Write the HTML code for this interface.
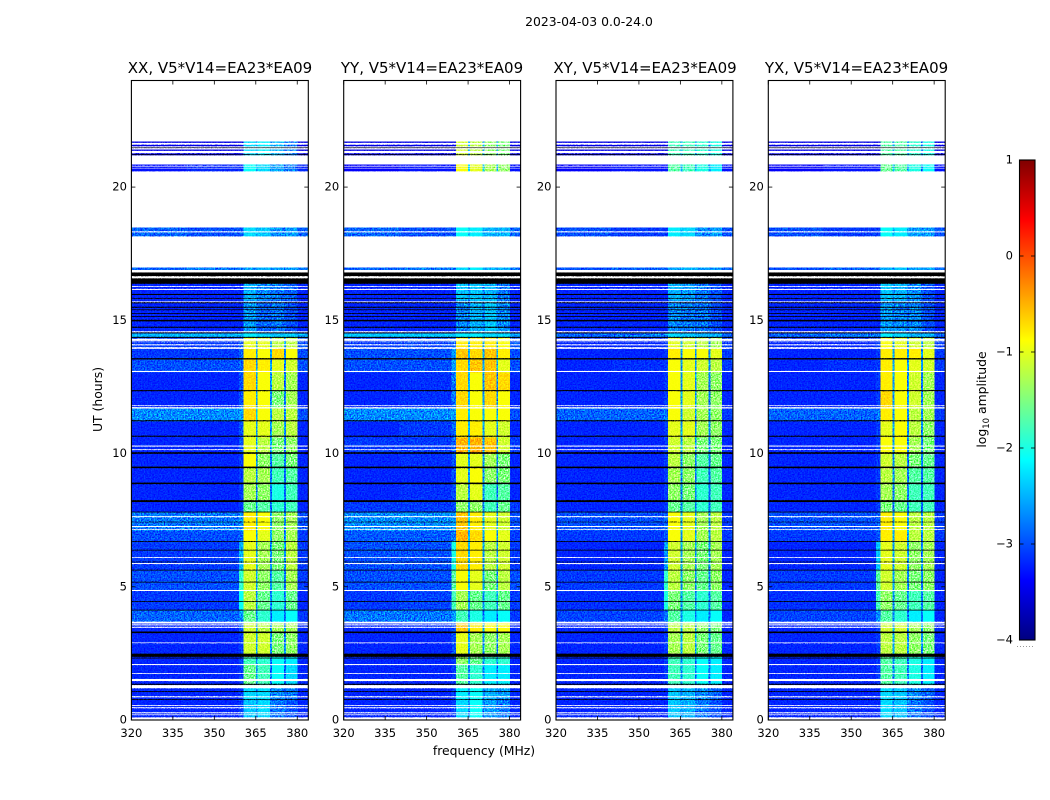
<!DOCTYPE html>
<html lang="en">
<head>
<meta charset="utf-8">
<title>2023-04-03 0.0-24.0</title>
<style>
html,body{margin:0;padding:0;background:#fff;width:1050px;height:800px;overflow:hidden}
svg{display:block;font-family:"DejaVu Sans","Liberation Sans",sans-serif;fill:#000}
.lbl{font-size:11.5px}
.ttl{font-size:15px}
.axt{font-size:12.4px}
</style>
</head>
<body>
<svg id="chart" xmlns="http://www.w3.org/2000/svg" width="1050" height="800" viewBox="0 0 1050 800">
  <defs>
    <filter id="speckle" x="0" y="0" width="1" height="1" color-interpolation-filters="sRGB">
      <feTurbulence type="fractalNoise" baseFrequency="0.7" numOctaves="2" seed="4"/>
      <feColorMatrix type="matrix" values="2.0 0 0 0 -0.5  2.0 0 0 0 -0.5  2.0 0 0 0 -0.5  0 0 0 0 1"/>
    </filter>
    <linearGradient id="jet-gradient" x1="0" y1="1" x2="0" y2="0"></linearGradient>
  </defs>
  <rect x="0" y="0" width="1050" height="800" fill="#fff"/>
  <text x="589" y="26" text-anchor="middle" style="font-size:12.4px">2023-04-03 0.0-24.0</text>
  <text x="220" y="73" text-anchor="middle" class="ttl">XX, V5*V14=EA23*EA09</text>
  <text x="432" y="73" text-anchor="middle" class="ttl">YY, V5*V14=EA23*EA09</text>
  <text x="645" y="73" text-anchor="middle" class="ttl">XY, V5*V14=EA23*EA09</text>
  <text x="856.5" y="73" text-anchor="middle" class="ttl">YX, V5*V14=EA23*EA09</text>
  <text x="484" y="755" text-anchor="middle" class="axt">frequency (MHz)</text>
  <text transform="translate(102,399.5) rotate(-90)" text-anchor="middle" class="axt">UT (hours)</text>
  <text transform="translate(986,399.5) rotate(-90)" text-anchor="middle" class="axt">log<tspan font-size="8.5" dy="3">10</tspan><tspan dy="-3"> amplitude</tspan></text>
  <g id="panels"></g>
  <g id="colorbar"></g>
</svg>
<script>
// ---- Axis categories and tick labels ----
const panelNames = ['xx', 'yy', 'xy', 'yx'];
const freqTicks = [320, 335, 350, 365, 380];
const hourTicks = [0, 5, 10, 15, 20];
const colorTicks = [-4, -3, -2, -1, 0, 1];
const colorTickLabels = ['\u22124', '\u22123', '\u22122', '\u22121', '0', '1'];

// Frequency band edges (MHz): the columns of each heatmap
const bandStartMHz = [320, 340, 359, 360.6, 365.0, 365.7, 370.2, 370.9, 375.2, 375.9, 380.1];
const bandEndMHz   = [340, 359, 360.6, 365.0, 365.7, 370.2, 370.9, 375.2, 375.9, 380.1, 384];

// UT spans (hours): the rows of each heatmap
const rowStartHours = [21.19,20.59,18.15,16.88,15.75,14.51,14.36,13.95,13.54,13.05,12.34,11.70,11.21,10.61,9.98,9.45,8.85,8.18,7.80,7.10,6.71,5.63,4.88,4.13,3.68,3.26,2.36,2.06,1.31,0.75,0];
const rowEndHours   = [21.71,20.85,18.49,16.99,16.39,15.75,14.51,14.36,13.95,13.54,13.05,12.34,11.70,11.21,10.61,9.98,9.45,8.85,8.18,7.80,7.10,6.71,5.63,4.88,4.13,3.68,3.26,2.36,2.06,1.31,0.75];

// log10 amplitude by row and band
const xxLevels = [
[-3.5,-3.5,-3.5,-2.3,-2.6,-2.2,-2.6,-2.5,-2.8,-2.8,-3.5],
[-3.3,-3.2,-3.2,-2.1,-2.5,-2.3,-2.7,-2.6,-2.9,-2.8,-3.2],
[-2.9,-3.0,-3.0,-2.3,-2.5,-2.4,-2.6,-2.7,-2.8,-2.6,-2.9],
[-2.9,-2.8,-2.8,-2.6,-2.7,-2.5,-2.7,-2.6,-2.7,-2.6,-2.8],
[-3.2,-3.2,-3.2,-2.5,-2.7,-2.7,-2.8,-2.8,-2.9,-2.9,-3.2],
[-3.2,-3.2,-3.2,-2.6,-2.8,-2.9,-2.9,-2.8,-2.9,-3.0,-3.2],
[-2.5,-2.5,-2.5,-2.2,-2.3,-2.3,-2.4,-2.4,-2.4,-2.4,-2.6],
[-3.1,-3.1,-3.0,-1.0,-2.6,-1.0,-2.6,-1.2,-2.6,-1.2,-3.0],
[-3.1,-3.1,-2.9,-0.8,-2.6,-0.9,-2.6,-0.7,-2.7,-0.9,-3.0],
[-3.0,-3.0,-2.9,-0.7,-2.6,-0.8,-2.6,-1.0,-2.7,-1.1,-3.0],
[-3.2,-3.2,-3.0,-0.7,-2.6,-0.9,-2.7,-1.2,-2.8,-1.3,-3.2],
[-3.2,-3.2,-3.0,-0.8,-2.6,-0.9,-2.7,-1.5,-2.8,-1.3,-3.2],
[-2.7,-2.7,-2.6,-0.7,-2.4,-0.9,-2.6,-1.2,-2.7,-1.2,-3.0],
[-3.2,-3.2,-3.0,-1.0,-2.6,-1.0,-2.7,-1.3,-2.7,-1.2,-3.2],
[-3.2,-3.2,-3.0,-1.0,-2.6,-1.2,-2.7,-1.5,-2.8,-1.4,-3.2],
[-3.2,-3.2,-3.1,-0.9,-2.7,-1.4,-2.8,-1.7,-2.8,-1.5,-3.2],
[-3.2,-3.2,-3.1,-1.2,-2.7,-1.3,-2.8,-1.8,-2.9,-1.7,-3.2],
[-3.2,-3.2,-3.1,-1.3,-2.8,-1.4,-2.8,-2.0,-2.9,-1.8,-3.2],
[-3.2,-3.2,-3.1,-1.6,-2.8,-1.7,-2.8,-1.9,-2.9,-1.8,-3.2],
[-2.8,-2.8,-2.7,-0.8,-2.5,-0.9,-2.6,-1.4,-2.7,-1.3,-3.0],
[-3.0,-3.0,-2.9,-0.9,-2.6,-1.0,-2.6,-1.4,-2.7,-1.3,-3.1],
[-3.1,-3.1,-2.5,-1.0,-2.6,-1.3,-2.7,-1.5,-2.7,-1.2,-3.1],
[-3.0,-3.0,-1.9,-1.1,-2.6,-1.4,-2.7,-1.7,-2.8,-1.3,-3.1],
[-3.1,-3.1,-2.1,-1.2,-2.7,-1.6,-2.7,-1.9,-2.8,-1.6,-3.2],
[-2.9,-2.9,-2.7,-1.6,-2.7,-1.9,-2.8,-2.2,-2.8,-2.1,-3.1],
[-3.2,-3.2,-3.0,-1.1,-2.6,-1.2,-2.7,-1.3,-2.7,-1.3,-3.2],
[-3.2,-3.2,-3.1,-1.1,-2.6,-1.1,-2.7,-1.5,-2.7,-1.4,-3.2],
[-3.2,-3.2,-3.1,-1.8,-2.7,-1.9,-2.8,-2.1,-2.8,-2.2,-3.2],
[-3.2,-3.2,-3.1,-1.6,-2.7,-1.8,-2.8,-2.1,-2.9,-2.3,-3.2],
[-3.2,-3.2,-3.1,-2.3,-2.7,-2.3,-2.8,-2.7,-2.9,-2.8,-3.2],
[-3.2,-3.2,-3.1,-2.4,-2.7,-2.3,-2.8,-2.8,-2.9,-3.0,-3.2]
];
const yyLevels = [
[-3.5,-3.5,-3.5,-1.1,-2.5,-1.2,-2.5,-1.4,-2.6,-1.5,-3.5],
[-3.4,-3.3,-3.3,-0.9,-2.3,-1.0,-2.4,-1.3,-2.5,-1.4,-3.3],
[-2.9,-3.0,-3.0,-2.1,-2.4,-2.2,-2.5,-2.5,-2.6,-2.5,-2.9],
[-2.9,-2.8,-2.8,-2.3,-2.6,-2.2,-2.6,-2.5,-2.6,-2.5,-2.8],
[-3.2,-3.2,-3.2,-2.4,-2.7,-2.4,-2.7,-2.5,-2.8,-2.8,-3.2],
[-3.2,-3.2,-3.2,-2.7,-2.8,-2.5,-2.8,-2.4,-2.8,-2.7,-3.2],
[-2.4,-2.4,-2.4,-2.2,-2.3,-2.2,-2.4,-2.3,-2.4,-2.3,-2.6],
[-3.1,-3.05,-2.9,-0.8,-2.5,-0.8,-2.5,-0.8,-2.6,-0.9,-3.0],
[-3.0,-3.0,-2.6,-0.6,-2.5,-0.7,-2.6,-0.6,-2.6,-0.8,-3.0],
[-3.0,-3.0,-2.6,-0.7,-2.5,-0.6,-2.6,-0.6,-2.6,-1.0,-3.0],
[-3.2,-3.15,-2.8,-0.7,-2.5,-0.9,-2.6,-0.6,-2.7,-0.7,-3.2],
[-3.2,-3.15,-2.8,-0.7,-2.5,-0.9,-2.6,-0.7,-2.7,-0.9,-3.2],
[-2.7,-2.7,-2.6,-0.8,-2.4,-0.9,-2.5,-0.9,-2.6,-0.9,-3.0],
[-3.2,-3.1,-2.9,-0.8,-2.5,-0.8,-2.6,-1.0,-2.6,-1.1,-3.2],
[-3.1,-3.1,-2.9,-0.5,-2.5,-0.5,-2.6,-0.6,-2.7,-1.1,-3.1],
[-3.2,-3.15,-3.0,-1.0,-2.6,-1.0,-2.7,-1.3,-2.7,-1.5,-3.2],
[-3.2,-3.2,-3.0,-1.0,-2.6,-0.9,-2.7,-1.4,-2.8,-1.5,-3.2],
[-3.2,-3.15,-3.0,-1.2,-2.7,-1.0,-2.7,-1.8,-2.8,-1.7,-3.2],
[-3.1,-3.1,-3.0,-1.4,-2.7,-1.4,-2.7,-1.8,-2.8,-1.6,-3.1],
[-2.7,-2.7,-2.6,-0.6,-2.4,-0.8,-2.5,-1.0,-2.6,-1.1,-3.0],
[-2.95,-2.95,-2.8,-0.5,-2.5,-0.7,-2.6,-0.9,-2.6,-1.0,-3.1],
[-3.0,-3.0,-2.0,-0.7,-2.5,-0.8,-2.6,-1.2,-2.6,-1.1,-3.1],
[-3.0,-3.0,-1.7,-0.9,-2.5,-1.0,-2.6,-1.5,-2.7,-1.2,-3.0],
[-3.1,-3.05,-1.8,-1.3,-2.6,-1.6,-2.7,-1.8,-2.7,-1.6,-3.1],
[-2.8,-2.8,-2.6,-1.8,-2.7,-2.0,-2.8,-2.2,-2.8,-2.1,-3.1],
[-3.2,-3.15,-3.0,-0.6,-2.5,-0.8,-2.6,-0.9,-2.6,-0.9,-3.2],
[-3.2,-3.2,-3.0,-1.0,-2.6,-1.3,-2.7,-1.4,-2.7,-1.3,-3.2],
[-3.2,-3.2,-3.1,-1.4,-2.6,-1.6,-2.7,-1.9,-2.8,-1.9,-3.2],
[-3.2,-3.2,-3.1,-1.7,-2.7,-1.9,-2.7,-2.2,-2.8,-2.2,-3.2],
[-3.2,-3.2,-3.1,-2.2,-2.7,-2.1,-2.8,-2.5,-2.8,-2.6,-3.2],
[-3.2,-3.2,-3.1,-2.3,-2.7,-2.1,-2.8,-2.6,-2.8,-2.8,-3.2]
];
const xyLevels = [
[-3.5,-3.5,-3.5,-1.8,-2.6,-1.8,-2.6,-1.9,-2.8,-2.0,-3.5],
[-3.4,-3.3,-3.3,-1.7,-2.5,-1.8,-2.6,-2.0,-2.7,-2.2,-3.3],
[-3.0,-3.1,-3.1,-2.2,-2.5,-2.3,-2.6,-2.7,-2.8,-2.6,-3.0],
[-3.0,-2.9,-2.9,-2.6,-2.7,-2.5,-2.7,-2.6,-2.7,-2.6,-2.9],
[-3.2,-3.2,-3.2,-2.5,-2.7,-2.6,-2.8,-2.8,-2.9,-3.0,-3.2],
[-3.2,-3.2,-3.2,-2.7,-2.8,-2.8,-2.9,-2.8,-2.9,-3.0,-3.2],
[-2.9,-2.8,-2.8,-2.3,-2.5,-2.4,-2.5,-2.5,-2.6,-2.5,-2.9],
[-3.2,-3.2,-3.1,-1.0,-2.6,-1.1,-2.6,-1.2,-2.7,-1.3,-3.1],
[-3.2,-3.2,-3.1,-0.8,-2.6,-0.9,-2.6,-0.9,-2.7,-1.0,-3.1],
[-3.2,-3.15,-3.1,-0.9,-2.6,-1.0,-2.6,-1.1,-2.7,-1.2,-3.1],
[-3.2,-3.2,-3.1,-0.9,-2.6,-1.0,-2.7,-1.3,-2.8,-1.4,-3.2],
[-3.2,-3.2,-3.1,-0.9,-2.6,-1.0,-2.7,-1.3,-2.8,-1.4,-3.2],
[-2.9,-2.9,-2.8,-0.9,-2.6,-1.1,-2.7,-1.3,-2.7,-1.4,-3.1],
[-3.2,-3.2,-3.1,-1.0,-2.6,-1.0,-2.7,-1.3,-2.7,-1.4,-3.2],
[-3.2,-3.2,-3.1,-1.1,-2.6,-1.2,-2.7,-1.5,-2.8,-1.5,-3.2],
[-3.2,-3.2,-3.1,-1.2,-2.7,-1.4,-2.8,-1.7,-2.8,-1.6,-3.2],
[-3.2,-3.2,-3.1,-1.3,-2.7,-1.4,-2.8,-1.8,-2.9,-1.7,-3.2],
[-3.2,-3.2,-3.1,-1.4,-2.8,-1.5,-2.8,-1.9,-2.9,-1.8,-3.2],
[-3.2,-3.2,-3.1,-1.6,-2.8,-1.7,-2.8,-1.9,-2.9,-1.8,-3.2],
[-3.0,-3.0,-2.9,-0.9,-2.6,-1.0,-2.6,-1.3,-2.7,-1.2,-3.1],
[-3.1,-3.1,-3.0,-0.9,-2.6,-1.0,-2.6,-1.3,-2.7,-1.2,-3.1],
[-3.2,-3.2,-2.6,-1.1,-2.6,-1.3,-2.7,-1.5,-2.7,-1.3,-3.2],
[-3.1,-3.1,-1.9,-1.2,-2.6,-1.4,-2.7,-1.6,-2.8,-1.4,-3.2],
[-3.15,-3.15,-2.0,-1.5,-2.7,-1.7,-2.7,-1.9,-2.8,-1.7,-3.2],
[-3.05,-3.05,-2.8,-1.7,-2.7,-2.0,-2.8,-2.2,-2.8,-2.1,-3.2],
[-3.2,-3.2,-3.1,-1.2,-2.6,-1.2,-2.7,-1.4,-2.7,-1.5,-3.2],
[-3.2,-3.2,-3.1,-1.3,-2.6,-1.2,-2.7,-1.5,-2.7,-1.6,-3.2],
[-3.2,-3.2,-3.1,-1.8,-2.7,-1.9,-2.8,-2.1,-2.8,-2.2,-3.2],
[-3.2,-3.2,-3.1,-1.8,-2.7,-1.9,-2.8,-2.1,-2.9,-2.2,-3.2],
[-3.2,-3.2,-3.2,-2.4,-2.7,-2.5,-2.8,-2.7,-2.9,-2.9,-3.2],
[-3.2,-3.2,-3.2,-2.4,-2.7,-2.5,-2.8,-2.8,-2.9,-3.0,-3.2]
];
const yxLevels = [
[-3.5,-3.5,-3.5,-1.7,-2.6,-1.7,-2.6,-1.9,-2.8,-2.0,-3.5],
[-3.4,-3.3,-3.3,-1.6,-2.5,-1.7,-2.6,-2.0,-2.7,-2.1,-3.3],
[-3.0,-3.1,-3.1,-2.1,-2.5,-2.2,-2.6,-2.6,-2.7,-2.6,-3.0],
[-3.0,-2.9,-2.9,-2.5,-2.7,-2.4,-2.7,-2.6,-2.7,-2.6,-2.9],
[-3.2,-3.2,-3.2,-2.4,-2.7,-2.5,-2.8,-2.7,-2.9,-3.0,-3.2],
[-3.2,-3.2,-3.2,-2.6,-2.8,-2.7,-2.9,-2.7,-2.9,-3.0,-3.2],
[-2.9,-2.8,-2.8,-2.2,-2.5,-2.3,-2.5,-2.5,-2.6,-2.5,-2.9],
[-3.2,-3.2,-3.1,-0.9,-2.6,-1.0,-2.6,-1.1,-2.7,-1.2,-3.1],
[-3.2,-3.2,-3.1,-0.8,-2.6,-0.8,-2.6,-0.8,-2.7,-1.0,-3.1],
[-3.2,-3.15,-3.1,-0.8,-2.6,-0.9,-2.6,-1.0,-2.7,-1.1,-3.1],
[-3.2,-3.2,-3.1,-0.8,-2.6,-0.9,-2.7,-1.1,-2.8,-1.3,-3.2],
[-3.2,-3.2,-3.1,-0.7,-2.6,-0.9,-2.7,-1.1,-2.8,-1.3,-3.2],
[-2.9,-2.9,-2.8,-0.8,-2.6,-0.9,-2.7,-1.2,-2.7,-1.3,-3.1],
[-3.2,-3.2,-3.1,-1.0,-2.6,-0.9,-2.7,-1.2,-2.7,-1.4,-3.2],
[-3.2,-3.2,-3.1,-0.9,-2.6,-0.9,-2.7,-1.3,-2.8,-1.5,-3.2],
[-3.2,-3.2,-3.1,-1.1,-2.7,-1.2,-2.8,-1.5,-2.8,-1.6,-3.2],
[-3.2,-3.2,-3.1,-1.2,-2.7,-1.3,-2.8,-1.7,-2.9,-1.7,-3.2],
[-3.2,-3.2,-3.1,-1.3,-2.8,-1.4,-2.8,-1.8,-2.9,-1.8,-3.2],
[-3.2,-3.2,-3.1,-1.5,-2.8,-1.6,-2.8,-1.8,-2.9,-1.8,-3.2],
[-3.0,-3.0,-2.9,-0.8,-2.6,-0.9,-2.6,-1.2,-2.7,-1.2,-3.1],
[-3.1,-3.1,-3.0,-0.8,-2.6,-0.8,-2.6,-1.2,-2.7,-1.2,-3.1],
[-3.2,-3.2,-2.4,-1.0,-2.6,-1.1,-2.7,-1.4,-2.7,-1.3,-3.2],
[-3.1,-3.1,-1.7,-1.1,-2.6,-1.3,-2.7,-1.5,-2.8,-1.4,-3.2],
[-3.15,-3.15,-1.8,-1.4,-2.7,-1.6,-2.7,-1.8,-2.8,-1.7,-3.2],
[-3.05,-3.05,-2.7,-1.7,-2.7,-1.9,-2.8,-2.2,-2.8,-2.1,-3.2],
[-3.2,-3.2,-3.1,-1.1,-2.6,-1.1,-2.7,-1.3,-2.7,-1.4,-3.2],
[-3.2,-3.2,-3.1,-1.2,-2.6,-1.2,-2.7,-1.4,-2.7,-1.5,-3.2],
[-3.2,-3.2,-3.1,-1.7,-2.7,-1.8,-2.8,-2.0,-2.8,-2.2,-3.2],
[-3.2,-3.2,-3.1,-1.7,-2.7,-1.8,-2.8,-2.0,-2.9,-2.2,-3.2],
[-3.2,-3.2,-3.2,-2.3,-2.7,-2.4,-2.8,-2.7,-2.9,-2.9,-3.2],
[-3.2,-3.2,-3.2,-2.3,-2.7,-2.4,-2.8,-2.8,-2.9,-3.0,-3.2]
];

// Flagged UT ranges in hours
const blankStartHours = [21.71,21.59,21.49,21.41,21.27,20.85,20.77,20.70,18.49,18.30,16.99,16.80,16.58,16.25,16.14,15.68,14.55,14.23,14.18,14.06,13.93,13.06,11.78,11.69,10.26,10.13,7.61,7.24,7.14,6.08,5.85,4.84,3.62,3.55,3.46,2.88,2.06,1.73,1.46,1.19,0.85,0.53,0.44,0.25,0.18,0.02];
const blankEndHours   = [24,21.66,21.53,21.46,21.36,21.19,20.80,20.72,20.59,18.34,18.15,16.88,16.65,16.28,16.18,15.71,14.59,14.31,14.20,14.10,13.99,13.10,11.81,11.74,10.30,10.16,7.65,7.28,7.17,6.11,5.89,4.88,3.69,3.59,3.50,2.91,2.10,1.76,1.54,1.31,0.89,0.56,0.48,0.29,0.21,0.10];
const blackStartHours = [21.46,21.20,16.65,16.37,15.95,15.81,15.64,15.47,15.38,15.24,15.13,14.96,14.72,14.51,14.34,13.53,12.34,11.21,10.63,9.99,9.45,8.85,8.18,7.79,7.42,6.68,6.36,5.92,5.61,5.16,4.43,4.11,3.26,2.37,2.31,1.32,1.05,0.75];
const blackEndHours   = [21.49,21.23,16.80,16.58,15.99,15.84,15.68,15.51,15.41,15.27,15.16,15.02,14.76,14.55,14.38,13.58,12.38,11.25,10.67,10.05,9.51,8.91,8.25,7.82,7.44,6.71,6.39,5.94,5.64,5.19,4.46,4.14,3.32,2.49,2.34,1.36,1.08,0.78];

// ---- Layout ----
const NS = 'http://www.w3.org/2000/svg';
const panelLeft = [131.4, 343.7, 556, 768.3];
const panelWidth = 176.9;
const plotTop = 80.5;
const plotBottom = 720;
const freqMin = 320, freqMax = 384, hourMin = 0, hourMax = 24;
const levelMin = -4, levelMax = 1;
const barLeft = 1019.5, barRight = 1035, barTop = 160, barBottom = 640;

const levelsByPanel = [xxLevels, yyLevels, xyLevels, yxLevels];

function xScale(panelIndex, mhz) { return panelLeft[panelIndex] + (mhz - freqMin) / (freqMax - freqMin) * panelWidth; }
function yScale(hour) { return plotBottom - (hour - hourMin) / (hourMax - hourMin) * (plotBottom - plotTop); }
function barScale(level) { return barBottom - (level - levelMin) / (levelMax - levelMin) * (barBottom - barTop); }
function clamp01(v) { return Math.max(0, Math.min(1, v)); }
function jetColor(level) {
  const t = clamp01((level - levelMin) / (levelMax - levelMin));
  const r = clamp01(1.5 - Math.abs(4 * t - 3));
  const g = clamp01(1.5 - Math.abs(4 * t - 2));
  const b = clamp01(1.5 - Math.abs(4 * t - 1));
  return 'rgb(' + Math.round(r * 255) + ',' + Math.round(g * 255) + ',' + Math.round(b * 255) + ')';
}
function make(tag, parent, attrs) {
  const el = document.createElementNS(NS, tag);
  for (const k in attrs) el.setAttribute(k, attrs[k]);
  parent.appendChild(el);
  return el;
}

const panelsGroup = document.getElementById('panels');

panelNames.forEach(function (name, p) {
  const g = make('g', panelsGroup, {});
  
  
  const x0 = xScale(p, freqMin), x1 = xScale(p, freqMax);
  const levels = levelsByPanel[p];

  // heatmap cells
  levels.forEach(function (row, r) {
    row.forEach(function (level, c) {
      const cx0 = xScale(p, bandStartMHz[c]);
      const cx1 = xScale(p, bandEndMHz[c]);
      const cy0 = yScale(rowEndHours[r]);
      const cy1 = yScale(rowStartHours[r]);
      const cell = make('rect', g, { x: cx0, y: cy0, width: cx1 - cx0, height: cy1 - cy0, fill: jetColor(level), 'shape-rendering': 'crispEdges' });
      
      
    });
  });

  // flagged black rows
  blackStartHours.forEach(function (start, i) {
    const line = make('rect', g, { x: x0, y: yScale(blackEndHours[i]), width: x1 - x0, height: yScale(start) - yScale(blackEndHours[i]), fill: '#000' });
    
    
  });

  // blank (no data) rows
  blankStartHours.forEach(function (start, i) {
    const gap = make('rect', g, { x: x0, y: yScale(blankEndHours[i]), width: x1 - x0, height: yScale(start) - yScale(blankEndHours[i]), fill: '#fff' });
    
    
  });

  // pixel speckle texture
  const speck = make('rect', g, { x: x0, y: plotTop, width: x1 - x0, height: plotBottom - plotTop, filter: 'url(#speckle)', style: 'mix-blend-mode:overlay' });
  
  

  // frame
  const frame = make('rect', g, { x: x0, y: plotTop, width: x1 - x0, height: plotBottom - plotTop, fill: 'none', stroke: '#000', 'stroke-width': 1.1 });
  
  

  // frequency ticks
  freqTicks.forEach(function (tick) {
    const tx = xScale(p, tick);
    const tb = make('line', g, { x1: tx, x2: tx, y1: plotBottom, y2: plotBottom - 4, stroke: '#000', 'stroke-width': 0.8 });
    
    
    const tt = make('line', g, { x1: tx, x2: tx, y1: plotTop, y2: plotTop + 4, stroke: '#000', 'stroke-width': 0.8 });
    
    
    const lab = make('text', g, { x: tx, y: 737, 'text-anchor': 'middle', class: 'lbl' });
    
    
    lab.textContent = String(tick);
  });

  // hour ticks
  hourTicks.forEach(function (tick) {
    const ty = yScale(tick);
    const tl = make('line', g, { x1: x0, x2: x0 + 4, y1: ty, y2: ty, stroke: '#000', 'stroke-width': 0.8 });
    
    
    const tr = make('line', g, { x1: x1, x2: x1 - 4, y1: ty, y2: ty, stroke: '#000', 'stroke-width': 0.8 });
    
    
    const lab = make('text', g, { x: x0 - 4.5, y: ty + 3.5, 'text-anchor': 'end', class: 'lbl' });
    
    
    lab.textContent = String(tick);
  });
});

// ---- Colorbar ----
const gradient = document.getElementById('jet-gradient');
const barGroup = document.getElementById('colorbar');
const gradientStopCount = 40;
for (let i = 0; i <= gradientStopCount; i++) {
  const frac = i / gradientStopCount;
  make('stop', gradient, { offset: frac, 'stop-color': jetColor(levelMin + frac * (levelMax - levelMin)) });
}
const barFill = make('rect', barGroup, { x: barLeft, y: barTop, width: barRight - barLeft, height: barBottom - barTop, fill: 'url(#jet-gradient)', stroke: '#000', 'stroke-width': 1.1 });



colorTicks.forEach(function (tick, i) {
  const ty = barScale(tick);
  const l = make('line', barGroup, { x1: barLeft, x2: barLeft + 4, y1: ty, y2: ty, stroke: '#000', 'stroke-width': 0.8 });
  
  
  const r = make('line', barGroup, { x1: barRight, x2: barRight - 4, y1: ty, y2: ty, stroke: '#000', 'stroke-width': 0.8 });
  
  
  const lab = make('text', barGroup, { x: 1013, y: ty + 3.5, 'text-anchor': 'end', class: 'lbl' });
  
  
  lab.textContent = colorTickLabels[i];
});

const dotted = make('line', barGroup, { x1: 1017, x2: 1035, y1: 646.5, y2: 646.5, stroke: '#999', 'stroke-width': 1, 'stroke-dasharray': '1 2' });


</script>
</body>
</html>
